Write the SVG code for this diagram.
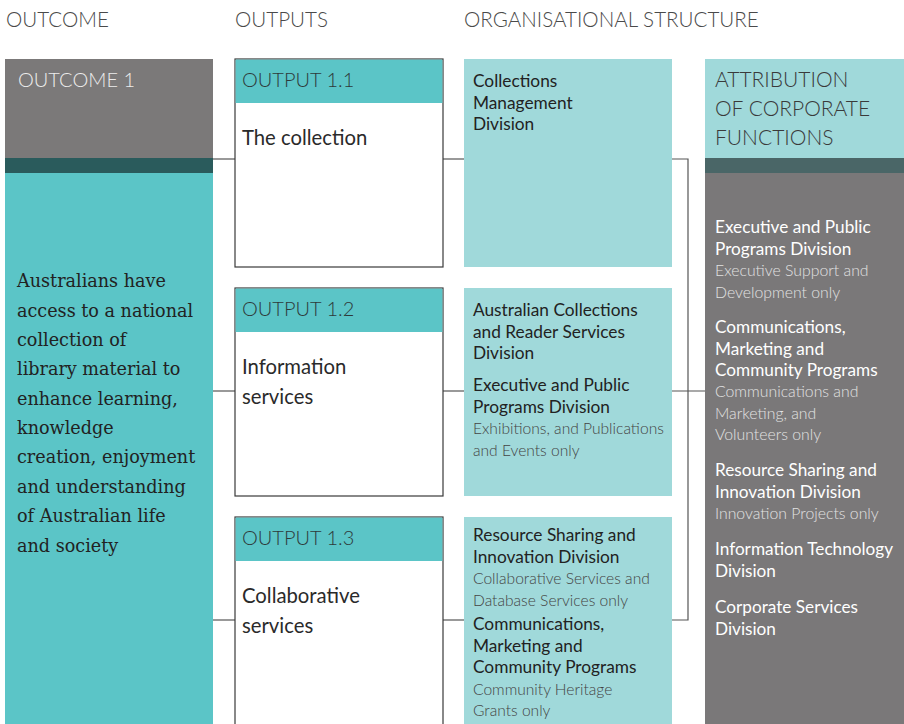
<svg xmlns="http://www.w3.org/2000/svg" width="904" height="724" viewBox="0 0 904 724">
<style>
.hd{font-family:Lato,"Noto Sans",sans-serif;font-weight:300;font-size:20.6px;fill:#4a4a4a}
.oh{font-family:Lato,"Noto Sans",sans-serif;font-weight:300;font-size:20px;fill:#2e3a3a}
.ob{font-family:Lato,"Noto Sans",sans-serif;font-size:20.3px;fill:#2a2a2a}
.serif{font-family:"DejaVu Serif",serif;font-size:17.6px;fill:#222}
.b{font-family:Lato,"Noto Sans",sans-serif;font-size:17.3px;fill:#222}
.l{font-family:Lato,"Noto Sans",sans-serif;font-weight:300;font-size:15.6px;fill:#444}
.wb{font-family:Lato,"Noto Sans",sans-serif;font-size:17.2px;fill:#ffffff}
.wl{font-family:Lato,"Noto Sans",sans-serif;font-weight:300;font-size:15.8px;fill:#e2e2e2}
.box{fill:#ffffff;stroke:#3a3a3a;stroke-width:1.2}
.conn{fill:none;stroke:#555;stroke-width:1.2}
</style>
<rect width="904" height="724" fill="#ffffff"/>
<g id="headings">
<text class="hd" x="6" y="27">OUTCOME</text>
<text class="hd" x="235" y="27">OUTPUTS</text>
<text class="hd" x="464" y="27">ORGANISATIONAL STRUCTURE</text>
</g>
<g id="connectors">
<line class="conn" x1="213" y1="159" x2="235" y2="159"/>
<line class="conn" x1="213" y1="391" x2="235" y2="391"/>
<line class="conn" x1="213" y1="620" x2="235" y2="620"/>
<line class="conn" x1="443" y1="159" x2="464" y2="159"/>
<line class="conn" x1="443" y1="391" x2="464" y2="391"/>
<line class="conn" x1="443" y1="620" x2="464" y2="620"/>
<path class="conn" d="M672 159 H688 V620 H672"/>
<line class="conn" x1="672" y1="391" x2="705" y2="391"/>
</g>
<g id="outcome1">
<rect x="5" y="59" width="208" height="99" fill="#7b7979"/>
<rect x="5" y="158" width="208" height="15" fill="#2a5b5c"/>
<rect x="5" y="173" width="208" height="551" fill="#5bc5c7"/>
<text class="hd" x="18" y="87" style="font-size:20px;fill:#ececec">OUTCOME 1</text>
<text class="serif">
<tspan x="17" y="287">Australians have</tspan>
<tspan x="17" y="316.5">access to a national</tspan>
<tspan x="17" y="346">collection of</tspan>
<tspan x="17" y="375">library material to</tspan>
<tspan x="17" y="404.5">enhance learning,</tspan>
<tspan x="17" y="434">knowledge</tspan>
<tspan x="17" y="463">creation, enjoyment</tspan>
<tspan x="17" y="492.5">and understanding</tspan>
<tspan x="17" y="522">of Australian life</tspan>
<tspan x="17" y="551.5">and society</tspan>
</text>
</g>
<g id="output11">
<rect class="box" x="235" y="59" width="208" height="208"/>
<rect x="235.6" y="59.6" width="206.8" height="43.4" fill="#5bc5c7"/>
<text class="oh" x="242" y="87">OUTPUT 1.1</text>
<text class="ob" x="242" y="145">The collection</text>
</g>
<g id="output12">
<rect class="box" x="235" y="288" width="208" height="208"/>
<rect x="235.6" y="288.6" width="206.8" height="43.4" fill="#5bc5c7"/>
<text class="oh" x="242" y="316">OUTPUT 1.2</text>
<text class="ob"><tspan x="242" y="374">Information</tspan><tspan x="242" y="404">services</tspan></text>
</g>
<g id="output13">
<rect class="box" x="235" y="517" width="208" height="220"/>
<rect x="235.6" y="517.6" width="206.8" height="43.4" fill="#5bc5c7"/>
<text class="oh" x="242" y="545">OUTPUT 1.3</text>
<text class="ob"><tspan x="242" y="603">Collaborative</tspan><tspan x="242" y="633">services</tspan></text>
</g>
<g id="org1">
<rect x="464" y="59" width="208" height="208" fill="#a0d9da"/>
<text class="b"><tspan x="473" y="87">Collections</tspan><tspan x="473" y="108.5">Management</tspan><tspan x="473" y="130">Division</tspan></text>
</g>
<g id="org2">
<rect x="464" y="288" width="208" height="208" fill="#a0d9da"/>
<text class="b"><tspan x="473" y="316">Australian Collections</tspan><tspan x="473" y="337.5">and Reader Services</tspan><tspan x="473" y="359">Division</tspan><tspan x="473" y="391">Executive and Public</tspan><tspan x="473" y="412.5">Programs Division</tspan></text>
<text class="l"><tspan x="473" y="434">Exhibitions, and Publications</tspan><tspan x="473" y="456">and Events only</tspan></text>
</g>
<g id="org3">
<rect x="464" y="517" width="208" height="207" fill="#a0d9da"/>
<text class="b"><tspan x="473" y="541">Resource Sharing and</tspan><tspan x="473" y="562.5">Innovation Division</tspan></text>
<text class="l"><tspan x="473" y="584">Collaborative Services and</tspan><tspan x="473" y="605.5">Database Services only</tspan></text>
<text class="b"><tspan x="473" y="630">Communications,</tspan><tspan x="473" y="651.5">Marketing and</tspan><tspan x="473" y="673">Community Programs</tspan></text>
<text class="l"><tspan x="473" y="694.5">Community Heritage</tspan><tspan x="473" y="716">Grants only</tspan></text>
</g>
<g id="corporate">
<rect x="705" y="59" width="199" height="99" fill="#a0d9da"/>
<rect x="705" y="158" width="199" height="15" fill="#4a6667"/>
<rect x="705" y="173" width="199" height="551" fill="#7a7879"/>
<text class="hd" style="font-size:21px;fill:#3a3a3a"><tspan x="715" y="87">ATTRIBUTION</tspan><tspan x="715" y="116">OF CORPORATE</tspan><tspan x="715" y="145">FUNCTIONS</tspan></text>
<text class="wb"><tspan x="715" y="233">Executive and Public</tspan><tspan x="715" y="254.5">Programs Division</tspan></text>
<text class="wl"><tspan x="715" y="276">Executive Support and</tspan><tspan x="715" y="297.5">Development only</tspan></text>
<text class="wb"><tspan x="715" y="333">Communications,</tspan><tspan x="715" y="354.5">Marketing and</tspan><tspan x="715" y="376">Community Programs</tspan></text>
<text class="wl"><tspan x="715" y="397">Communications and</tspan><tspan x="715" y="418.5">Marketing, and</tspan><tspan x="715" y="440">Volunteers only</tspan></text>
<text class="wb"><tspan x="715" y="476">Resource Sharing and</tspan><tspan x="715" y="497.5">Innovation Division</tspan></text>
<text class="wl"><tspan x="715" y="519">Innovation Projects only</tspan></text>
<text class="wb"><tspan x="715" y="555">Information Technology</tspan><tspan x="715" y="576.5">Division</tspan></text>
<text class="wb"><tspan x="715" y="613">Corporate Services</tspan><tspan x="715" y="634.5">Division</tspan></text>
</g>
</svg>
